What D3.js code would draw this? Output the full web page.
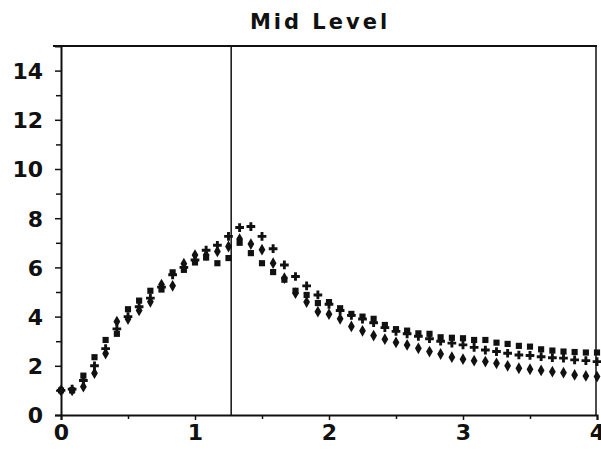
<!DOCTYPE html>
<html>
<head>
<meta charset="utf-8">
<script src="https://cdn.jsdelivr.net/npm/d3@7"></script>
<style>
  body { margin: 0; background: #fff; }
  text { font-family: "DejaVu Sans", sans-serif; font-weight: bold; fill: #111; }
</style>
</head>
<body>
<div id="chart"></div>
<script>
// time values (x), one point every 1/12
var times = [0, 0.083, 0.167, 0.25, 0.333, 0.417, 0.5, 0.583, 0.667, 0.75, 0.833, 0.917,
  1, 1.083, 1.167, 1.25, 1.333, 1.417, 1.5, 1.583, 1.667, 1.75, 1.833, 1.917,
  2, 2.083, 2.167, 2.25, 2.333, 2.417, 2.5, 2.583, 2.667, 2.75, 2.833, 2.917,
  3, 3.083, 3.167, 3.25, 3.333, 3.417, 3.5, 3.583, 3.667, 3.75, 3.833, 3.917, 4]

var plusVals = [1.0, 1.05, 1.4, 2.0, 2.7, 3.5, 4.0, 4.4, 4.75, 5.2, 5.7, 6.0,
  6.3, 6.7, 6.9, 7.26, 7.62, 7.66, 7.26, 6.76, 6.1, 5.63, 5.25, 4.88,
  4.5, 4.25, 4.05, 3.9, 3.75, 3.55, 3.4, 3.3, 3.2, 3.1, 3.0, 2.92,
  2.85, 2.75, 2.64, 2.58, 2.51, 2.44, 2.42, 2.37, 2.33, 2.31, 2.24, 2.21, 2.17]

var diamondVals = [1.0, 1.0, 1.15, 1.7, 2.5, 3.8, 3.9, 4.25, 4.6, 5.3, 5.25, 6.15,
  6.5, 6.5, 6.65, 6.85, 7.15, 6.95, 6.72, 6.17, 5.56, 4.95, 4.59, 4.2,
  4.1, 3.91, 3.6, 3.42, 3.23, 3.08, 2.95, 2.85, 2.71, 2.58, 2.48, 2.35,
  2.27, 2.21, 2.17, 2.1, 2.0, 1.9, 1.86, 1.81, 1.76, 1.72, 1.63, 1.59, 1.56]

var squareVals = [1.0, 1.0, 1.6, 2.35, 3.05, 3.3, 4.3, 4.65, 5.05, 5.1, 5.8, 5.9,
  6.2, 6.4, 6.17, 6.38, 7.0, 6.58, 6.17, 5.81, 5.5, 5.05, 4.88, 4.55,
  4.59, 4.34, 4.11, 4.0, 3.91, 3.66, 3.49, 3.43, 3.32, 3.3, 3.16, 3.14,
  3.12, 3.05, 3.05, 2.94, 2.89, 2.81, 2.78, 2.67, 2.62, 2.58, 2.56, 2.54, 2.54]

var xTicks = [0, 1, 2, 3, 4]
var yTicks = [0, 2, 4, 6, 8, 10, 12, 14]
var markerLine = 1.27
var title = "Mid Level"

var width = 601, height = 454

var svg = d3.select("#chart").append("svg")
  .attr("width", width).attr("height", height)

var xScale = d3.scaleLinear().domain([0, 4]).range([61, 597])
var yScale = d3.scaleLinear().domain([0, 15]).range([415, 46])

// title
svg.append("text")
  .attr("x", 320).attr("y", 29)
  .attr("text-anchor", "middle")
  .attr("font-size", "21px")
  .attr("letter-spacing", "3px")
  .text(title)

// frame top + right
svg.append("line")
  .attr("x1", xScale(0) - 8).attr("x2", xScale(4))
  .attr("y1", yScale(15)).attr("y2", yScale(15))
  .attr("stroke", "#111").attr("stroke-width", 2)
svg.append("line")
  .attr("x1", xScale(4) - 1).attr("x2", xScale(4) - 1)
  .attr("y1", yScale(15)).attr("y2", yScale(0))
  .attr("stroke", "#111").attr("stroke-width", 1.5)

// x axis - major + minor ticks
var xAxis = d3.axisBottom(xScale).tickValues(xTicks).tickSize(5).tickPadding(4)
  .tickFormat(d3.format("d"))
var gx = svg.append("g").attr("transform", "translate(0," + yScale(0) + ")").call(xAxis)
gx.append("g").call(d3.axisBottom(xScale).tickValues([0.5, 1.5, 2.5, 3.5]).tickSize(4).tickFormat(""))
  .select(".domain").remove()

// y axis
var yAxis = d3.axisLeft(yScale).tickValues(yTicks).tickSize(6).tickPadding(12)
var gy = svg.append("g").attr("transform", "translate(" + xScale(0) + ",0)").call(yAxis)
gy.append("g").call(d3.axisLeft(yScale).tickValues([1, 3, 5, 7, 9, 11, 13]).tickSize(5).tickFormat(""))
  .select(".domain").remove()

svg.selectAll(".domain").attr("stroke", "#111").attr("stroke-width", 2)
svg.selectAll(".tick line").attr("stroke", "#111").attr("stroke-width", 1.5)
svg.selectAll(".tick text").attr("font-size", "22px").attr("fill", "#111")
  .attr("font-family", "DejaVu Sans").attr("font-weight", "bold")
gy.selectAll(".tick text").attr("dy", "0.36em")

// vertical marker line
svg.append("line")
  .attr("x1", xScale(markerLine)).attr("x2", xScale(markerLine))
  .attr("y1", yScale(15)).attr("y2", yScale(0))
  .attr("stroke", "#111").attr("stroke-width", 1.5)

// series markers
function drawSeries(vals, symbolType, size, className) {
  svg.append("g").attr("class", className)
    .selectAll("path")
    .data(vals)
    .enter().append("path")
    .attr("transform", function(d, i) { return "translate(" + xScale(times[i]) + "," + yScale(d) + ")" })
    .attr("d", d3.symbol().type(symbolType).size(size))
    .attr("fill", "#111")
}

drawSeries(squareVals, d3.symbolSquare, 38, "squares")
drawSeries(diamondVals, d3.symbolDiamond, 40, "diamonds")
drawSeries(plusVals, d3.symbolCross, 42, "pluses")
</script>
</body>
</html>
